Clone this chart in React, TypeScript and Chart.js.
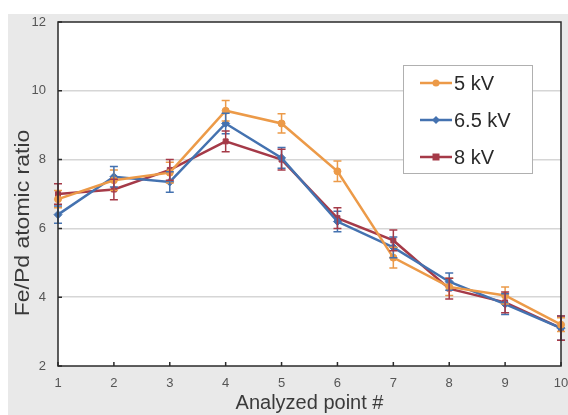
import React, { useEffect, useRef } from "react";
import { Chart, registerables } from "chart.js";

Chart.register(...registerables);

const categories = [1, 2, 3, 4, 5, 6, 7, 8, 9, 10];
const seriesLabels = ["5 kV", "6.5 kV", "8 kV"];
const values5 = [6.85, 7.4, 7.62, 9.42, 9.05, 7.66, 5.15, 4.3, 4.05, 3.2];
const values65 = [6.4, 7.5, 7.35, 9.05, 8.05, 6.2, 5.45, 4.45, 3.8, 3.1];
const values8 = [7.0, 7.13, 7.7, 8.53, 8.0, 6.3, 5.65, 4.25, 3.85, 3.1];
const err5 = [0.25, 0.3, 0.3, 0.3, 0.28, 0.3, 0.3, 0.25, 0.25, 0.2];
const err65 = [0.25, 0.3, 0.3, 0.3, 0.3, 0.3, 0.3, 0.25, 0.3, 0.35];
const err8 = [0.3, 0.3, 0.3, 0.3, 0.3, 0.3, 0.3, 0.3, 0.3, 0.35];
const yTicks = [2, 4, 6, 8, 10, 12];
const xTitle = "Analyzed point #";
const yTitle = "Fe/Pd atomic ratio";

const colors = ["#EC9A48", "#4472B0", "#A53A48"];
const styles = ["circle", "rectRot", "rect"];

export default function App() {
  const ref = useRef<HTMLCanvasElement>(null);
  useEffect(() => {
    const canvas = ref.current!;
    const seriesValues = [values5, values65, values8];
    const seriesErr = [err5, err65, err8];
    const datasets = seriesValues.map((vals, i) => ({
      label: seriesLabels[i],
      data: categories.map((c, j) => ({ x: c, y: vals[j] })),
      borderColor: colors[i],
      backgroundColor: colors[i],
      borderWidth: 2.5,
      pointStyle: styles[i] as any,
      pointRadius: i === 1 ? 4 : 3.5,
      pointBorderWidth: 1,
      tension: 0,
      clip: false as any,
      errs: seriesErr[i],
    }));

    const bgPlugin = {
      id: "bg",
      beforeDraw(chart: any) {
        const { ctx, chartArea: a } = chart;
        ctx.save();
        ctx.fillStyle = "#ffffff";
        ctx.fillRect(0, 0, chart.width, chart.height);
        ctx.fillStyle = "#e9e9e9";
        ctx.fillRect(8, 14, chart.width - 8, chart.height - 14);
        ctx.fillStyle = "#ffffff";
        ctx.fillRect(a.left, a.top, a.right - a.left, a.bottom - a.top);
        ctx.restore();
      },
    };

    const errPlugin = {
      id: "errbars",
      afterDatasetsDraw(chart: any) {
        const { ctx } = chart;
        const xs = chart.scales.x;
        const ys = chart.scales.y;
        ctx.save();
        chart.data.datasets.forEach((ds: any) => {
          ctx.strokeStyle = ds.borderColor;
          ctx.lineWidth = 1.5;
          ds.data.forEach((p: any, j: number) => {
            const e = ds.errs[j];
            const px = xs.getPixelForValue(p.x);
            const y1 = ys.getPixelForValue(p.y + e);
            const y2 = ys.getPixelForValue(p.y - e);
            ctx.beginPath();
            ctx.moveTo(px, y1);
            ctx.lineTo(px, y2);
            ctx.moveTo(px - 4, y1);
            ctx.lineTo(px + 4, y1);
            ctx.moveTo(px - 4, y2);
            ctx.lineTo(px + 4, y2);
            ctx.stroke();
          });
        });
        ctx.restore();
      },
    };

    const framePlugin = {
      id: "frame",
      afterDraw(chart: any) {
        const { ctx, chartArea: a } = chart;
        const xs = chart.scales.x;
        const ys = chart.scales.y;
        ctx.save();
        ctx.strokeStyle = "#2a2a2a";
        ctx.lineWidth = 1.5;
        ctx.strokeRect(a.left, a.top, a.right - a.left, a.bottom - a.top);
        ctx.beginPath();
        yTicks.forEach((t) => {
          const py = ys.getPixelForValue(t);
          ctx.moveTo(a.left, py);
          ctx.lineTo(a.left + 4, py);
        });
        categories.forEach((c) => {
          const px = xs.getPixelForValue(c);
          ctx.moveTo(px, a.bottom);
          ctx.lineTo(px, a.bottom - 4);
        });
        ctx.stroke();

        // y title
        ctx.save();
        ctx.translate(23, 223);
        ctx.rotate(-Math.PI / 2);
        ctx.scale(1.15, 1);
        ctx.font = '20px "Liberation Sans", Arial, sans-serif';
        ctx.fillStyle = "#3a3a3a";
        ctx.textAlign = "center";
        ctx.textBaseline = "middle";
        ctx.fillText(yTitle, 0, 0);
        ctx.restore();

        // legend
        const lx = 403, ly = 65, lw = 129, lh = 108;
        ctx.fillStyle = "#ffffff";
        ctx.fillRect(lx, ly, lw, lh);
        ctx.strokeStyle = "#b0b0b0";
        ctx.lineWidth = 1;
        ctx.strokeRect(lx + 0.5, ly + 0.5, lw, lh);
        chart.data.datasets.forEach((ds: any, i: number) => {
          const ry = 83 + i * 37;
          ctx.strokeStyle = ds.borderColor;
          ctx.lineWidth = 2.5;
          ctx.beginPath();
          ctx.moveTo(420, ry);
          ctx.lineTo(452, ry);
          ctx.stroke();
          ctx.fillStyle = ds.borderColor;
          ctx.beginPath();
          if (i === 0) {
            ctx.arc(436, ry, 3.5, 0, Math.PI * 2);
          } else if (i === 1) {
            ctx.moveTo(436, ry - 4);
            ctx.lineTo(440, ry);
            ctx.lineTo(436, ry + 4);
            ctx.lineTo(432, ry);
            ctx.closePath();
          } else {
            ctx.rect(432.5, ry - 3.5, 7, 7);
          }
          ctx.fill();
          ctx.fillStyle = "#2a2a2a";
          ctx.font = '20px "Liberation Sans", Arial, sans-serif';
          ctx.textAlign = "left";
          ctx.textBaseline = "middle";
          ctx.fillText(ds.label, 454, ry + 1);
        });
        ctx.restore();
      },
    };

    const chart = new Chart(canvas, {
      type: "line",
      data: { datasets: datasets as any },
      plugins: [bgPlugin, errPlugin, framePlugin],
      options: {
        responsive: false,
        animation: false,
        layout: { padding: { left: 0, top: 22, right: 7, bottom: 0 } },
        plugins: { legend: { display: false }, tooltip: { enabled: false } },
        scales: {
          x: {
            type: "linear",
            min: 1,
            max: 10,
            afterFit: (s: any) => {
              s.height = 49;
              s.paddingLeft = 0;
              s.paddingRight = 0;
            },
            afterBuildTicks: (s: any) => {
              s.ticks = categories.map((c) => ({ value: c }));
            },
            grid: { display: false, drawTicks: false },
            border: { display: false },
            ticks: {
              font: { family: '"Liberation Sans", Arial, sans-serif', size: 13 },
              color: "#555555",
              padding: 10,
              maxRotation: 0,
            },
            title: {
              display: true,
              text: xTitle,
              font: { family: '"Liberation Sans", Arial, sans-serif', size: 20 },
              color: "#3a3a3a",
              padding: { top: 0, bottom: 0 },
            },
          },
          y: {
            type: "linear",
            min: 2,
            max: 12,
            afterFit: (s: any) => {
              s.width = 58;
              s.paddingTop = 0;
              s.paddingBottom = 0;
            },
            afterBuildTicks: (s: any) => {
              s.ticks = yTicks.map((t) => ({ value: t }));
            },
            grid: {
              color: (c: any) => (c.tick && (c.tick.value === 2 || c.tick.value === 12) ? "rgba(0,0,0,0)" : "#d6d6d6"),
              lineWidth: 1.5,
              drawTicks: false,
            },
            border: { display: false },
            ticks: {
              font: { family: '"Liberation Sans", Arial, sans-serif', size: 13 },
              color: "#555555",
              padding: 12,
            },
          },
        },
      },
    });
    return () => chart.destroy();
  }, []);
  return (
    <div style={{ position: "fixed", left: 0, top: 0, width: 568, height: 415 }}>
      <canvas ref={ref} width={568} height={415} style={{ display: "block", width: 568, height: 415 }} />
    </div>
  );
}
